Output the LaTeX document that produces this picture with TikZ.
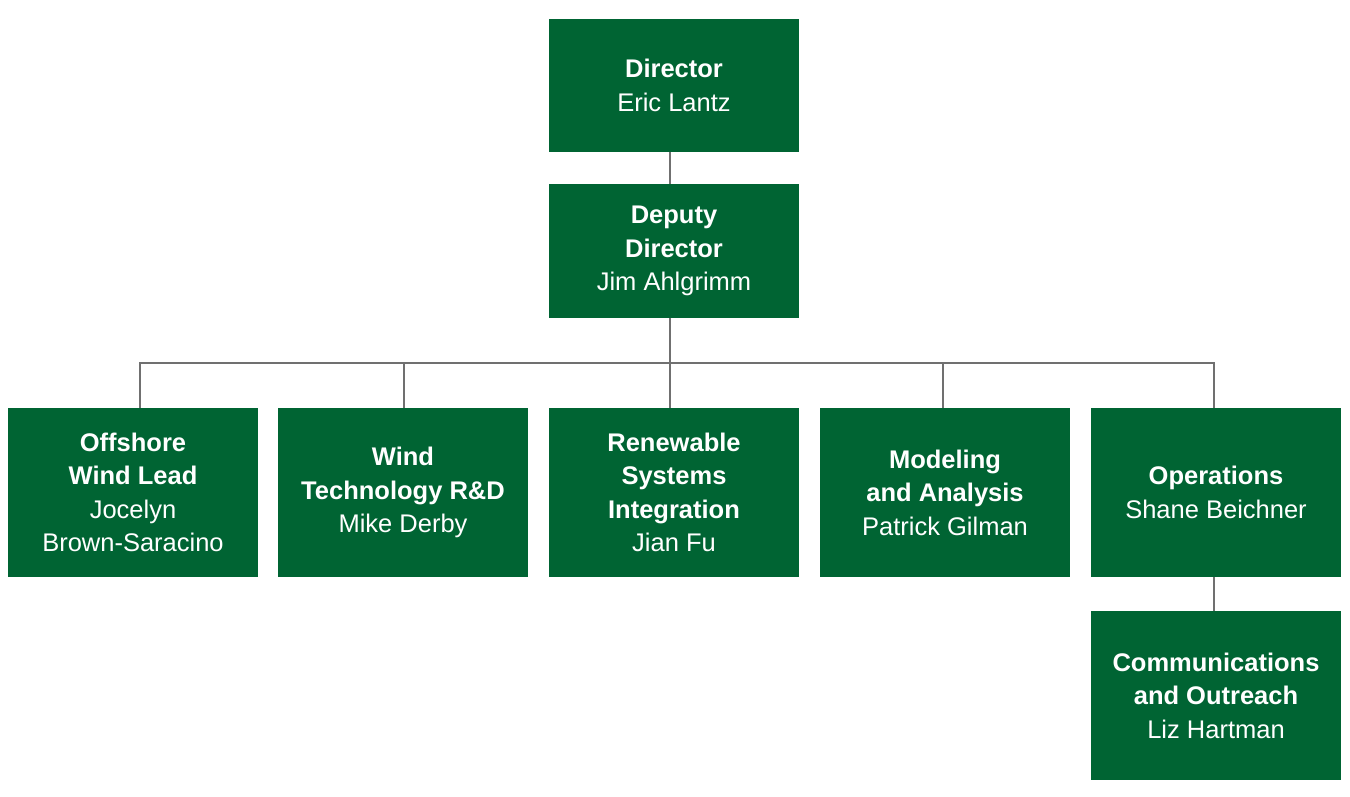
\documentclass[tikz,border=0pt]{standalone}
\usepackage{fontspec}
\setmainfont{Liberation Sans}
\definecolor{boxgreen}{RGB}{0,100,51}
\definecolor{linegray}{RGB}{112,112,112}
\begin{document}
\begin{tikzpicture}[x=1pt,y=-1pt,
  orgbox/.style={fill=boxgreen, text=white, draw=none, inner sep=0pt,
    minimum width=250pt, align=center,
    font=\fontsize{25.5}{33.5}\selectfont},
  topbox/.style={orgbox, minimum height=133pt},
  rowbox/.style={orgbox, minimum height=169pt},
  conn/.style={draw=linegray, line width=2pt}]
\useasboundingbox (0,0) rectangle (1350,797);
\node[topbox] (dir) at (674,85.5) {\textbf{Director}\\Eric Lantz};
\node[topbox] (dep) at (674,251) {\textbf{Deputy}\\\textbf{Director}\\Jim Ahlgrimm};
\node[rowbox] (off) at (133,492.5) {\textbf{Offshore}\\\textbf{Wind Lead}\\Jocelyn\\Brown-Saracino};
\node[rowbox] (wtr) at (403,492.5) {\textbf{Wind}\\\textbf{Technology R\&D}\\Mike Derby};
\node[rowbox] (rsi) at (674,492.5) {\textbf{Renewable}\\\textbf{Systems}\\\textbf{Integration}\\Jian Fu};
\node[rowbox] (mod) at (945,492.5) {\textbf{Modeling}\\\textbf{and Analysis}\\Patrick Gilman};
\node[rowbox] (ops) at (1216,492.5) {\textbf{Operations}\\Shane Beichner};
\node[rowbox] (com) at (1216,695.5) {\textbf{Communications}\\\textbf{and Outreach}\\Liz Hartman};
\coordinate (bar) at (670,363);
\draw[conn] ([xshift=-4pt]dir.south) -- ([xshift=-4pt]dep.north);
\draw[conn] ([xshift=-4pt]dep.south) -- (bar);
\draw[conn] ([xshift=7pt]off.north) |- (bar) -| ([xshift=-2pt]ops.north);
\draw[conn] ([xshift=1pt]wtr.north) -- ([xshift=1pt]wtr.north |- bar);
\draw[conn] ([xshift=-4pt]rsi.north) -- (bar);
\draw[conn] ([xshift=-2pt]mod.north) -- ([xshift=-2pt]mod.north |- bar);
\draw[conn] ([xshift=-2pt]ops.south) -- ([xshift=-2pt]com.north);
\end{tikzpicture}
\end{document}
